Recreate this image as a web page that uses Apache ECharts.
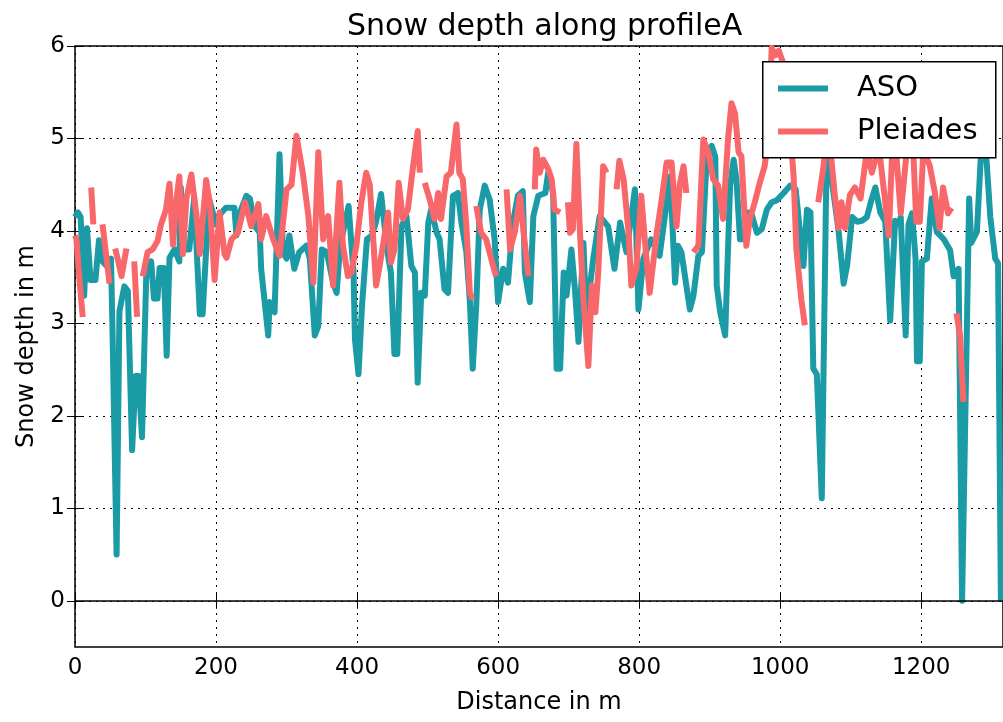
<!DOCTYPE html>
<html>
<head>
<meta charset="utf-8">
<script src="https://cdn.jsdelivr.net/npm/echarts@6/dist/echarts.min.js"></script>
<style>
  html, body { margin: 0; padding: 0; background: #fff; }
  #chart { width: 1003px; height: 722px; }
</style>
</head>
<body>
<div id="chart"></div>
<script>
// ASO profile (distance in m, snow depth in m)
const asoDist = [0, 4, 8, 13, 17, 22, 29, 34, 39, 45, 51, 53, 59, 63, 70, 75, 81, 86, 90, 95,
  101, 108, 112, 117, 120, 126, 130, 134, 141, 148, 150, 155, 162, 169, 177, 181, 190, 200,
  207, 214, 226, 229, 234, 243, 248, 255, 262, 264, 274, 276, 283, 290, 295, 300, 304, 311,
  318, 328, 333, 340, 345, 350, 357, 366, 371, 376, 388, 395, 397, 402, 407, 414, 421, 427,
  434, 439, 444, 448, 453, 457, 463, 470, 477, 482, 486, 491, 496, 501, 505, 513, 517, 524,
  529, 536, 543, 548, 555, 560, 564, 569, 574, 581, 588, 595, 600, 607, 614, 621, 628, 635,
  638, 645, 650, 657, 667, 671, 678, 683, 688, 693, 697, 704, 709, 714, 721, 725, 735, 744,
  756, 765, 773, 782, 794, 799, 806, 817, 829, 844, 851, 855, 860, 872, 877, 884, 889, 896,
  903, 908, 910, 915, 922, 929, 934, 938, 943, 948, 955, 960, 967, 974, 981, 988, 995, 1005,
  1014, 1022, 1033, 1038, 1043, 1047, 1052, 1059, 1066, 1076, 1083, 1090, 1095, 1102, 1109,
  1116, 1123, 1130, 1135, 1142, 1149, 1156, 1163, 1168, 1171, 1178, 1182, 1187, 1192, 1194,
  1198, 1201, 1208, 1215, 1222, 1232, 1241, 1246, 1253, 1258, 1268, 1271, 1279, 1288, 1298,
  1305, 1309, 1313];
const asoDepth = [4.15, 4.2, 4.15, 3.3, 4.03, 3.47, 3.47, 3.9, 3.67, 3.62, 3.7, 3.0, 0.5, 3.13,
  3.4, 3.35, 1.63, 2.43, 2.43, 1.77, 3.5, 3.67, 3.27, 3.27, 3.6, 3.6, 2.65, 3.71, 3.8, 3.67,
  4.47, 3.8, 3.8, 4.35, 3.1, 3.1, 4.35, 4.07, 4.19, 4.25, 4.25, 3.95, 4.2, 4.38, 4.35, 4.05,
  3.98, 3.59, 2.87, 3.23, 3.12, 4.83, 3.77, 3.7, 3.95, 3.59, 3.77, 3.84, 3.7, 2.87, 2.97, 3.8,
  3.77, 3.44, 3.33, 3.84, 4.27, 3.55, 2.83, 2.45, 3.19, 3.91, 3.95, 4.1, 4.4, 4.05, 3.73,
  3.55, 2.67, 2.67, 4.05, 4.16, 3.62, 3.55, 2.36, 3.33, 3.3, 4.09, 4.23, 3.98, 3.91, 3.37,
  3.33, 4.38, 4.41, 4.09, 3.77, 3.23, 2.51, 3.19, 4.23, 4.49, 4.34, 3.91, 3.23, 3.59, 3.44,
  4.09, 4.38, 4.43, 3.55, 3.23, 4.16, 4.38, 4.41, 4.63, 4.41, 2.51, 2.51, 3.55, 3.3, 3.8,
  3.37, 2.8, 3.87, 3.08, 3.7, 4.16, 4.05, 3.59, 4.09, 3.77, 4.45, 3.15, 3.7, 3.91, 3.73,
  4.59, 3.44, 3.84, 3.77, 3.15, 3.3, 3.73, 3.77, 4.81, 4.92, 4.8, 3.41, 3.12, 2.87, 4.49,
  4.77, 4.56, 3.91, 3.91, 4.2, 4.17, 3.98, 4.02, 4.23, 4.31, 4.33, 4.41, 4.49, 4.45, 3.62,
  4.23, 4.2, 2.51, 2.45, 1.11, 4.9, 4.39, 3.99, 3.43, 3.63, 4.15, 4.1, 4.11, 4.15, 4.35, 4.47,
  4.2, 4.1, 3.03, 4.11, 4.07, 4.15, 2.87, 4.07, 4.19, 3.7, 2.59, 2.59, 3.67, 3.7, 4.35, 3.99,
  3.91, 3.79, 3.51, 3.59, 0, 4.35, 3.87, 3.99, 5.3, 4.15, 3.7, 3.65, 0];

// Pleiades profile, null = no data (gap in the line)
const pleDist = [0, 2, 6, 11, 15, 23, 26, 32, 39, 44, 49, 53, 57, 62, 66, 73, 78, 84, 88, 92,
  96, 103, 110, 117, 122, 129, 134, 139, 144, 148, 153, 158, 165, 172, 177, 186, 191, 198,
  205, 212, 215, 222, 231, 241, 250, 260, 264, 271, 281, 290, 300, 307, 314, 323, 331, 338,
  345, 352, 359, 366, 375, 380, 387, 392, 399, 406, 413, 418, 423, 427, 432, 439, 444, 448,
  453, 459, 465, 472, 479, 486, 489, 492, 496, 503, 510, 515, 519, 527, 533, 541, 545, 550,
  555, 560, 564, 567, 569, 576, 583, 593, 597, 604, 612, 617, 624, 631, 636, 643, 648, 652,
  654, 659, 664, 671, 676, 680, 688, 694, 699, 702, 706, 711, 716, 721, 728, 733, 738, 742,
  749, 754, 761, 768, 772, 778, 785, 789, 796, 803, 810, 815, 825, 832, 839, 846, 853, 858,
  863, 867, 872, 877, 884, 891, 898, 905, 912, 919, 926, 931, 936, 941, 945, 952, 957, 964,
  971, 978, 983, 988, 993, 998, 1005, 1012, 1019, 1023, 1030, 1035, 1045, 1054, 1061, 1066,
  1071, 1078, 1083, 1087, 1092, 1099, 1106, 1114, 1123, 1130, 1140, 1149, 1154, 1159, 1163,
  1171, 1180, 1188, 1193, 1198, 1203, 1212, 1219, 1226, 1231, 1238, 1243, 1246, 1250, 1255,
  1260];
const pleDepth = [3.95, 3.91, 3.5, 3.07, null, 4.47, 4.07, null, 4.07, 3.75, 3.43, null, 3.81,
  3.65, 3.51, 3.81, null, 3.67, 3.07, null, 3.51, 3.77, 3.8, 3.89, 4.07, 4.23, 4.51, 3.85,
  4.35, 4.59, 3.75, 4.35, 4.61, 4.19, 3.75, 4.55, 4.31, 3.47, 4.2, 3.75, 3.71, 3.91, 3.98,
  4.31, 4.05, 4.29, 3.91, 4.16, 3.91, 3.73, 4.45, 4.5, 5.03, 4.63, 4.16, 3.44, 4.85, 3.91,
  4.16, 3.41, 4.52, 3.84, 3.51, 3.55, 3.84, 4.31, 4.63, 4.5, 3.9, 3.41, 3.62, 3.95, 4.2, 3.66,
  3.8, 4.52, 4.13, 4.23, 4.67, 5.08, 4.63, null, 4.52, 4.34, 4.13, 4.41, 4.13, 4.59, 4.63,
  5.15, 4.63, 4.56, 4.05, 3.33, 3.26, null, 4.27, 3.98, 3.91, 3.62, 3.51, null, 4.45, 3.8,
  4.0, 4.38, 4.0, 3.51, null, 4.45, 4.88, 4.63, 4.77, 4.67, 4.56, 4.23, 4.2, null, 4.31,
  3.98, 4.02, 4.94, 4.0, 3.26, 2.54, 3.41, 3.12, 3.55, 4.7, 4.63, null, 4.45, 4.76, 4.56,
  3.98, 3.41, 3.59, 4.38, 3.73, 3.33, 3.98, 4.34, 4.74, 4.74, 4.05, 4.52, 4.7, 4.41, null,
  3.77, 3.84, 4.99, 4.85, 4.56, 4.49, 4.13, 4.99, 5.38, 5.27, 4.85, 4.81, 3.84, 4.13, 4.31,
  4.52, 4.7, 4.99, 5.98, 5.9, 5.95, 5.8, 5.3, 4.6, 3.8, 3.26, 2.98, null, 4.31, 4.67, 5.0,
  4.9, 4.35, 4.03, 4.31, 4.03, 4.39, 4.47, 4.35, 4.87, 4.63, 4.91, 4.31, 3.95, 4.87, 5.0,
  4.19, 4.9, 5.0, 4.1, 4.1, 4.87, 4.71, 4.43, 4.03, 4.47, 4.19, 4.25, null, 3.11, 2.87, 2.15];

const yTicks = [0, 1, 2, 3, 4, 5, 6];
const xTicks = [0, 200, 400, 600, 800, 1000, 1200];

const zip = (xs, ys) => xs.map((x, i) => [x, ys[i]]);

const chart = echarts.init(document.getElementById('chart'));
const font = 'DejaVu Sans';
const gridLine = { show: true, lineStyle: { color: '#000', type: [2, 5], width: 1 } };

chart.setOption({
  animation: false,
  backgroundColor: '#fff',
  textStyle: { fontFamily: font },
  title: {
    text: 'Snow depth along profileA',
    left: 342, top: 7,
    textStyle: { fontFamily: font, fontSize: 30, fontWeight: 'normal', color: '#000' }
  },
  // opaque legend frame drawn above the lines
  graphic: [{
    type: 'rect', left: 762, top: 61, zlevel: 1, z: 1, silent: true,
    shape: { width: 233, height: 96 },
    style: { fill: '#fff', stroke: '#000', lineWidth: 1.5 }
  }],
  legend: {
    orient: 'vertical',
    left: 762, top: 61,
    zlevel: 2,
    padding: [13, 12, 13, 16],
    itemGap: 14,
    itemWidth: 50, itemHeight: 6,
    icon: 'rect',
    textStyle: { fontFamily: font, fontSize: 29, color: '#000', padding: [0, 0, 0, 24] },
    data: ['ASO', 'Pleiades']
  },
  grid: {
    left: 75, right: 0, top: 46, bottom: 75,
    show: true, borderColor: '#000', borderWidth: 1.5, backgroundColor: '#fff'
  },
  xAxis: [{
    type: 'value', min: 0, max: 1316,
    name: 'Distance in m', nameLocation: 'middle', nameGap: 44,
    nameTextStyle: { fontFamily: font, fontSize: 24, color: '#000' },
    axisLine: { show: false },
    axisTick: { show: true, inside: true, length: 8, lineStyle: { color: '#000' }, customValues: xTicks },
    axisLabel: { fontFamily: font, fontSize: 23, color: '#000', margin: 10, customValues: xTicks,
      formatter: v => String(v) },
    splitLine: gridLine
  }, {
    type: 'value', min: 0, max: 1316, position: 'top',
    axisLine: { show: false },
    axisTick: { show: true, inside: true, length: 8, lineStyle: { color: '#000' }, customValues: xTicks },
    axisLabel: { show: false },
    splitLine: { show: false }
  }],
  yAxis: [{
    type: 'value', min: -0.5, max: 6,
    name: 'Snow depth in m', nameLocation: 'middle', nameGap: 36, nameRotate: 90,
    nameTextStyle: { fontFamily: font, fontSize: 24, color: '#000' },
    axisLine: { show: false },
    axisTick: { show: true, inside: true, length: 8, lineStyle: { color: '#000' }, customValues: yTicks },
    axisLabel: { fontFamily: font, fontSize: 23, color: '#000', margin: 10, customValues: yTicks },
    splitLine: gridLine
  }, {
    type: 'value', min: -0.5, max: 6, position: 'right',
    axisLine: { show: false },
    axisTick: { show: true, inside: true, length: 8, lineStyle: { color: '#000' }, customValues: yTicks },
    axisLabel: { show: false },
    splitLine: { show: false }
  }],
  series: [{
    name: 'ASO',
    type: 'line',
    data: zip(asoDist, asoDepth),
    showSymbol: false,
    color: '#1a9ba6',
    lineStyle: { width: 6, color: '#1a9ba6', join: 'round' },
    z: 3,
    markLine: {
      silent: true, symbol: 'none', label: { show: false },
      lineStyle: { color: '#000', type: 'solid', width: 1.5 },
      data: [{ yAxis: 0 }]
    }
  }, {
    name: 'Pleiades',
    type: 'line',
    data: zip(pleDist, pleDepth),
    connectNulls: false,
    showSymbol: false,
    color: '#f8686b',
    lineStyle: { width: 6, color: '#f8686b', join: 'round' },
    z: 4
  }]
});
</script>
</body>
</html>
